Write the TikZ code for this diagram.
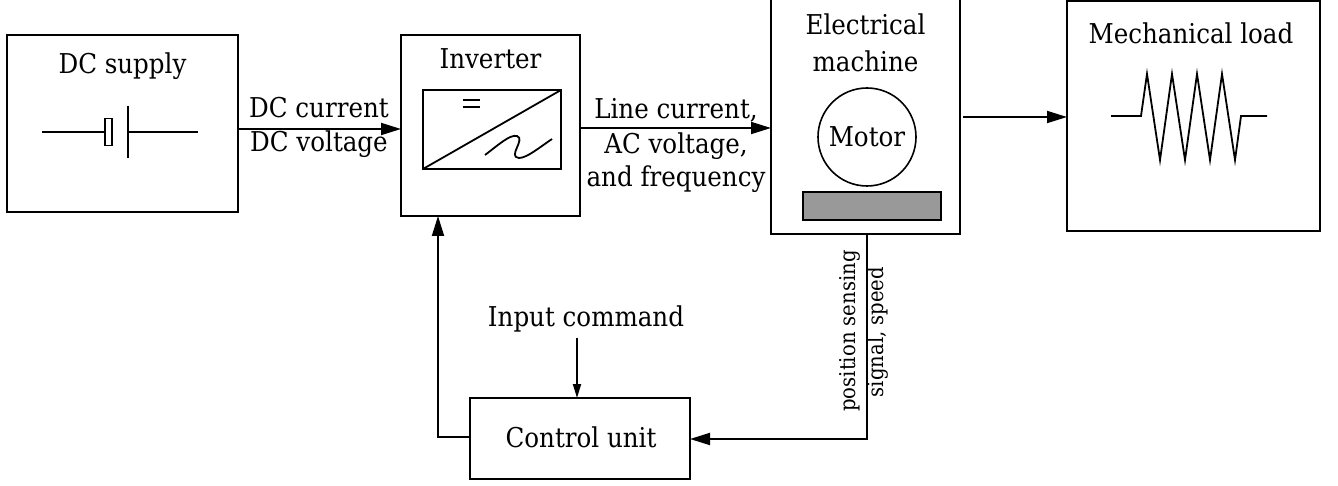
\documentclass[tikz,border=0pt]{standalone}
\usepackage{fontspec}
\setmainfont{DejaVu Serif Condensed}
\usetikzlibrary{arrows.meta}
\tikzset{
  blockbox/.style={draw=black,line width=1.8pt,fill=none,minimum width=#1,inner sep=0pt,outer sep=0pt},
  lbl/.style={font=\fontsize{27.3}{32}\selectfont,inner sep=0pt,align=center},
  sidelbl/.style={font=\fontsize{21.8}{26}\selectfont,inner sep=0pt,rotate=90},
  wire/.style={line width=1.8pt,-{Triangle[length=20pt,width=12pt]}},
  thinwire/.style={line width=1.8pt,-{Triangle[length=14pt,width=8pt]}},
  sym/.style={line width=1.8pt},
}
\begin{document}
\begin{tikzpicture}[x=1pt,y=-1pt]
\useasboundingbox (0,0) rectangle (1338,486);
% blocks
\node[blockbox=231pt,minimum height=177pt] (dc) at (122.5,123.5) {};
\node[blockbox=179pt,minimum height=181pt] (inv) at (490.5,125.5) {};
\node[blockbox=189pt,minimum height=240pt] (mach) at (865.5,114) {};
\node[blockbox=253pt,minimum height=230pt] (load) at (1193.5,116) {};
\node[blockbox=220pt,minimum height=81pt] (ctrl) at (580,438.5) {};
% titles
\node[lbl] (dct) at (122.5,66) {DC supply};
\node[lbl] (invt) at (490.5,59) {Inverter};
\node[lbl] (macht) at (865.5,43) {Electrical\\[5pt]machine};
\node[lbl] (loadt) at (1191,33) {Mechanical load};
\node[lbl] (ctrlt) at (581,437) {Control unit};
\node[lbl] (cmd) at (586,319) {Input command};
% battery
\coordinate (bl) at (42,132);
\coordinate (br) at (198,132);
\node[draw=black,line width=1.5pt,minimum width=7pt,minimum height=27pt,inner sep=0pt,outer sep=0pt] (cell) at (108.5,132) {};
\coordinate (plateT) at (128,106);
\coordinate (plateB) at (128,158);
\draw[sym] (bl) -- (cell.west);
\draw[sym] (plateT) -- (plateB);
\draw[sym] (plateT |- br) -- (br);
% inverter symbol
\node[draw=black,line width=1.7pt,minimum width=138pt,minimum height=79pt,inner sep=0pt,outer sep=0pt] (conv) at (492,129.5) {};
\draw[sym] (conv.south west) -- (conv.north east);
\draw[line width=1.2pt] (463,100) -- (480,100) (463,107) -- (480,107);
\draw[sym] (485,155) .. controls (497,146) and (510,134) .. (517,136) .. controls (526,139) and (507,157) .. (519,158) .. controls (527,158) and (540,147) .. (552,139);
% motor
\node[draw=black,line width=1.6pt,circle,minimum size=98pt,inner sep=0pt,outer sep=0pt,font=\fontsize{27.3}{32}\selectfont] (motor) at (867,137) {Motor};
\node[draw=black,line width=1.7pt,fill=black!40,minimum width=138pt,minimum height=28pt,inner sep=0pt,outer sep=0pt] (base) at (872,206) {};
% resistor
\draw[sym] (1111,116) -- (1141,116) -- (1147,74) -- (1160,160) -- (1172,74) -- (1185,160) -- (1197,74) -- (1210,160) -- (1222,74) -- (1235,160) -- (1241,116) -- (1267,116);
% connectors
\coordinate (y1) at (0,129);
\coordinate (y2) at (0,128);
\coordinate (mo) at (963,117);
\coordinate (fbtop) at (867,234);
\coordinate (fbcorner) at (867,439);
\coordinate (upc) at (438,437);
\coordinate (cmdtop) at (577,338);
\draw[wire] (dc.east |- y1) -- (inv.west |- y1);
\draw[wire] (inv.east |- y2) -- (mach.west |- y2);
\draw[wire] (mo) -- (load.west |- mo);
\draw[wire] (fbtop) -- (fbcorner) -- (ctrl.east |- fbcorner);
\draw[wire] (ctrl.west |- upc) -- (upc) -- (upc |- inv.south);
\draw[thinwire] (cmdtop) -- (cmdtop |- ctrl.north);
% labels
\node[lbl] (l1) at (319,108) {DC current};
\node[lbl] (l2) at (319,144) {DC voltage};
\node[lbl] (l3) at (676,110) {Line current,};
\node[lbl] (l4) at (676,146) {AC voltage,};
\node[lbl] (l5) at (676,179) {and frequency};
\node[sidelbl] (s1) at (850,331) {position sensing};
\node[sidelbl] (s2) at (878,332) {signal, speed};
\end{tikzpicture}
\end{document}
